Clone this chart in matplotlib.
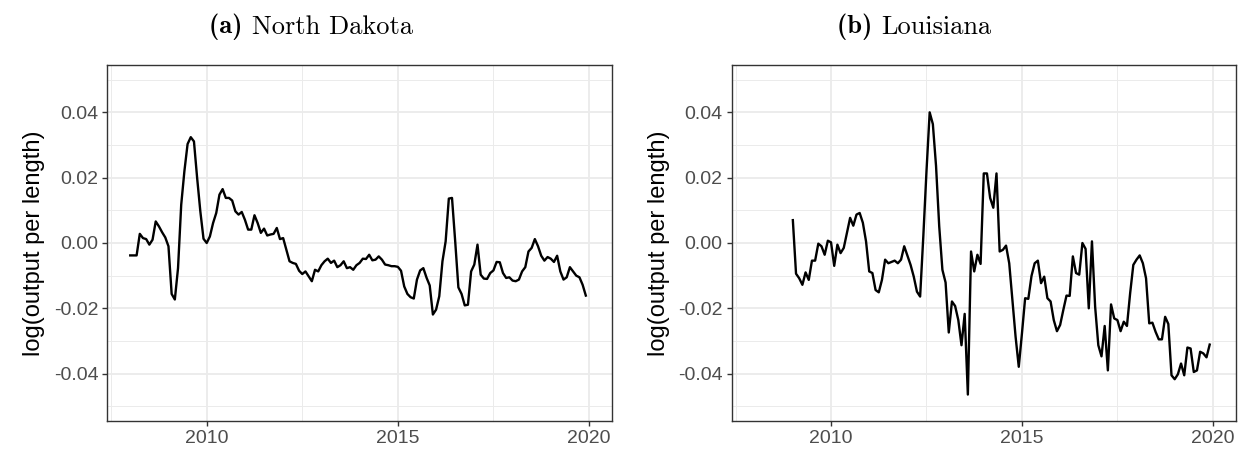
import matplotlib
matplotlib.use("Agg")
import matplotlib.pyplot as plt
import numpy as np
from matplotlib.ticker import FixedLocator, FuncFormatter

plt.rcParams["font.family"] = ["Liberation Sans", "DejaVu Sans"]
plt.rcParams["axes.unicode_minus"] = False

# monthly series, North Dakota starts Jan 2008, Louisiana starts Jan 2009
nd_start = 2008
nd_values = [
    -0.0038, -0.0038, -0.0038, 0.0028, 0.0015, 0.0012, -0.0005, 0.0010, 0.0066, 0.0051, 0.0033, 0.0017,
    -0.0010, -0.0156, -0.0173, -0.0077, 0.0117, 0.0220, 0.0303, 0.0324, 0.0311, 0.0199, 0.0097, 0.0013,
    0.0000, 0.0020, 0.0061, 0.0092, 0.0148, 0.0165, 0.0138, 0.0138, 0.0130, 0.0097, 0.0087, 0.0095,
    0.0071, 0.0041, 0.0041, 0.0085, 0.0061, 0.0031, 0.0044, 0.0023, 0.0026, 0.0028, 0.0046, 0.0012,
    0.0015, -0.0020, -0.0056, -0.0061, -0.0064, -0.0085, -0.0095, -0.0087, -0.0102, -0.0117, -0.0082, -0.0087,
    -0.0068, -0.0056, -0.0048, -0.0061, -0.0054, -0.0074, -0.0068, -0.0056, -0.0077, -0.0074, -0.0082, -0.0068,
    -0.0061, -0.0048, -0.0049, -0.0036, -0.0053, -0.0051, -0.0041, -0.0051, -0.0066, -0.0068, -0.0071, -0.0071,
    -0.0073, -0.0085, -0.0133, -0.0156, -0.0166, -0.0170, -0.0112, -0.0084, -0.0077, -0.0106, -0.0130, -0.0219,
    -0.0204, -0.0163, -0.0056, 0.0005, 0.0136, 0.0138, 0.0005, -0.0136, -0.0156, -0.0191, -0.0189, -0.0087,
    -0.0066, -0.0005, -0.0097, -0.0109, -0.0110, -0.0092, -0.0084, -0.0058, -0.0059, -0.0092, -0.0107, -0.0105,
    -0.0115, -0.0117, -0.0112, -0.0087, -0.0074, -0.0026, -0.0015, 0.0012, -0.0010, -0.0039, -0.0054, -0.0043,
    -0.0048, -0.0058, -0.0039, -0.0087, -0.0112, -0.0105, -0.0074, -0.0087, -0.0100, -0.0105, -0.0128, -0.0161,
]

la_start = 2009
la_values = [
    0.0070, -0.0094, -0.0108, -0.0128, -0.0090, -0.0113, -0.0054, -0.0054, -0.0002, -0.0010, -0.0036, 0.0007,
    0.0002, -0.0070, -0.0005, -0.0031, -0.0015, 0.0031, 0.0077, 0.0053, 0.0087, 0.0092, 0.0062, 0.0005,
    -0.0087, -0.0092, -0.0144, -0.0151, -0.0113, -0.0051, -0.0062, -0.0058, -0.0054, -0.0062, -0.0051, -0.0010,
    -0.0039, -0.0067, -0.0103, -0.0149, -0.0164, 0.0020, 0.0220, 0.0400, 0.0364, 0.0236, 0.0051, -0.0082,
    -0.0121, -0.0274, -0.0179, -0.0193, -0.0236, -0.0313, -0.0217, -0.0464, -0.0026, -0.0087, -0.0036, -0.0064,
    0.0213, 0.0213, 0.0138, 0.0108, 0.0213, -0.0026, -0.0021, -0.0008, -0.0062, -0.0174, -0.0287, -0.0379,
    -0.0277, -0.0169, -0.0171, -0.0101, -0.0062, -0.0054, -0.0123, -0.0103, -0.0169, -0.0179, -0.0236, -0.0270,
    -0.0251, -0.0205, -0.0161, -0.0162, -0.0041, -0.0092, -0.0097, 0.0000, -0.0018, -0.0200, 0.0005, -0.0195,
    -0.0313, -0.0347, -0.0254, -0.0390, -0.0188, -0.0231, -0.0236, -0.0270, -0.0241, -0.0254, -0.0154, -0.0067,
    -0.0051, -0.0038, -0.0062, -0.0108, -0.0246, -0.0244, -0.0272, -0.0295, -0.0295, -0.0226, -0.0248, -0.0405,
    -0.0417, -0.0402, -0.0369, -0.0405, -0.0320, -0.0323, -0.0395, -0.0390, -0.0333, -0.0338, -0.0350, -0.0311,
]

panel_tags = ["(a)", "(b)"]
panel_names = ["North Dakota", "Louisiana"]
ylabel = "log(output per length)"
x_major = [2010, 2015, 2020]
x_minor = [2007.5, 2012.5, 2017.5]
y_major = [-0.04, -0.02, 0.00, 0.02, 0.04]
y_minor = [-0.05, -0.03, -0.01, 0.01, 0.03, 0.05]

fig = plt.figure(figsize=(12.39, 4.51), dpi=100)
axes = [
    fig.add_axes([0.0866, 0.0665, 0.4073, 0.7894]),
    fig.add_axes([0.5906, 0.0665, 0.4068, 0.7894]),
]

series = [(nd_start, nd_values), (la_start, la_values)]
for ax, (start, vals) in zip(axes, series):
    t = start + np.arange(len(vals)) / 12
    ax.plot(t, vals, color="black", linewidth=1.7, zorder=3)
    ax.set_xlim(2007.4, 2020.6)
    ax.set_ylim(-0.0545, 0.0545)
    ax.xaxis.set_major_locator(FixedLocator(x_major))
    ax.xaxis.set_minor_locator(FixedLocator(x_minor))
    ax.yaxis.set_major_locator(FixedLocator(y_major))
    ax.yaxis.set_minor_locator(FixedLocator(y_minor))
    ax.yaxis.set_major_formatter(FuncFormatter(lambda v, p: f"{v:.2f}"))
    ax.grid(which="major", color="#EBEBEB", linewidth=1.3, zorder=0)
    ax.grid(which="minor", color="#EBEBEB", linewidth=0.7, zorder=0)
    ax.set_axisbelow(True)
    ax.tick_params(which="major", direction="out", length=3.5, width=1.0, color="#333333",
                   labelsize=14, labelcolor="#4D4D4D", pad=3)
    ax.tick_params(which="minor", length=0)
    for s in ax.spines.values():
        s.set_color("#333333")
        s.set_linewidth(1.0)
    ax.set_ylabel(ylabel, fontsize=17, labelpad=6)

# LaTeX-style subfigure captions: bold tag + roman name, centred as one piece
renderer = fig.canvas.get_renderer()
for cx, tag, name in zip([0.251, 0.738], panel_tags, panel_names):
    t1 = fig.text(0, 0.94, tag + " ", family="cmb10", fontsize=19, ha="left", va="center")
    t2 = fig.text(0, 0.94, name, family="cmr10", fontsize=19, ha="left", va="center")
    w1 = t1.get_window_extent(renderer).width / fig.bbox.width
    w2 = t2.get_window_extent(renderer).width / fig.bbox.width
    x0 = cx - (w1 + w2) / 2
    t1.set_x(x0)
    t2.set_x(x0 + w1)

fig.savefig("out.png", dpi=100)
